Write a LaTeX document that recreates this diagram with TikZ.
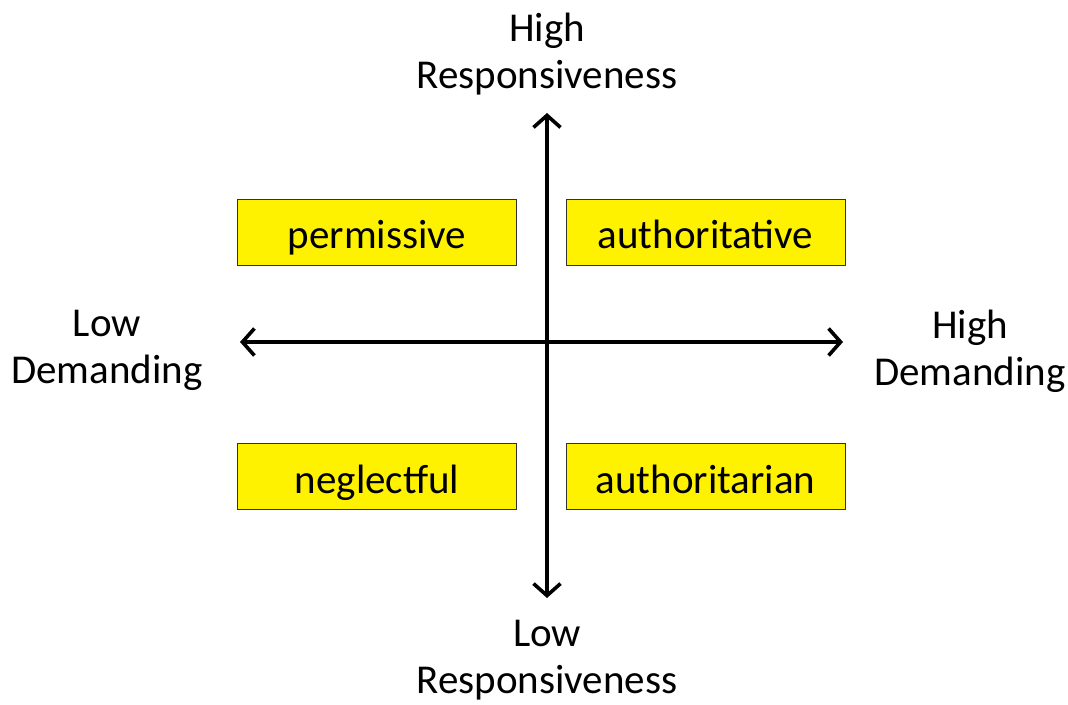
\documentclass[tikz,border=0pt]{standalone}
\usepackage{fontspec}
\setmainfont{Carlito}
\usetikzlibrary{arrows.meta}

\begin{document}
\begin{tikzpicture}[x=1pt,y=-1pt,
  quadrant/.style={draw=black!80,line width=0.8pt,fill=yellow,minimum width=279pt,minimum height=66pt,inner sep=0pt,text height=42pt,text depth=9pt},
  label/.style={align=center,anchor=base,inner sep=0pt},
  axis/.style={line width=3.2pt,{Straight Barb[length=12pt,width=27pt,line width=3.6pt]}-{Straight Barb[length=12pt,width=27pt,line width=3.6pt]}}]
  \useasboundingbox (0,0) rectangle (1068,704);
  \fontsize{41}{47}\selectfont
  \coordinate(top) at (547,113);
  \coordinate(bottom) at (547,598);
  \coordinate(left) at (240,342);
  \coordinate(right) at (843,342);
  \node[quadrant](permissive) at (377,232){permissive};
  \node[quadrant](authoritative) at (705.5,232){authoritative};
  \node[quadrant](neglectful) at (377,476.5){neglectful};
  \node[quadrant](authoritarian) at (705.5,476.5){authoritarian};
  \node[label](highresp) at (547,88){High\\Responsiveness};
  \node[label](lowresp) at (547,693){Low\\Responsiveness};
  \node[label](lowdem) at (107,383){Low\\Demanding};
  \node[label](highdem) at (970,385){High\\Demanding};
  \draw[axis] (top)--(bottom);
  \draw[axis] (left)--(right);
\end{tikzpicture}
\end{document}
